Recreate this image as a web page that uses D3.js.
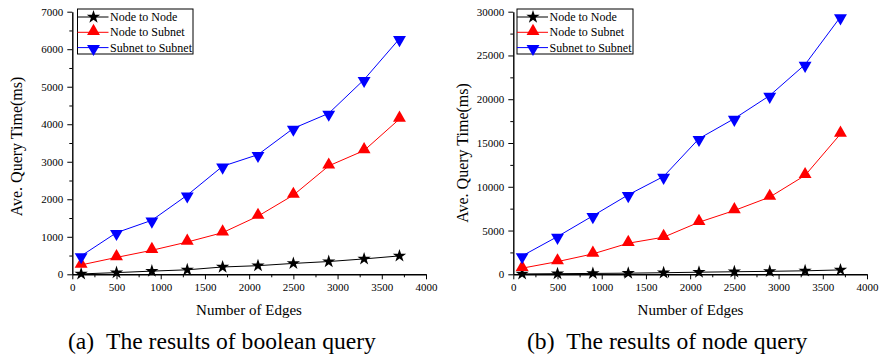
<!DOCTYPE html>
<html>
<head>
<meta charset="utf-8">
<script src="https://cdn.jsdelivr.net/npm/d3@7"></script>
<style>
  body { margin: 0; background: #fff; }
</style>
</head>
<body>
<div id="svg-area"></div>
<script>
// number of edges (x values)
var edges = [100, 500, 900, 1300, 1700, 2100, 2500, 2900, 3300, 3700];
var seriesNames = ["Node to Node", "Node to Subnet", "Subnet to Subnet"];

// (a) boolean query
var boolNodeNode     = [10, 45, 85, 120, 195, 230, 290, 340, 410, 490];
var boolNodeSubnet   = [250, 450, 640, 860, 1110, 1550, 2110, 2890, 3300, 4140];
var boolSubnetSubnet = [490, 1110, 1440, 2110, 2880, 3190, 3890, 4290, 5190, 6280];

// (b) node query
var nodeNodeNode     = [40, 70, 100, 130, 180, 240, 290, 340, 400, 500];
var nodeNodeSubnet   = [700, 1450, 2330, 3550, 4240, 5950, 7290, 8820, 11300, 16030];
var nodeSubnetSubnet = [2100, 4310, 6680, 9080, 11180, 15500, 17790, 20420, 23970, 29400];

var xTicks = [0, 500, 1000, 1500, 2000, 2500, 3000, 3500, 4000];
var yTicksA = [0, 1000, 2000, 3000, 4000, 5000, 6000, 7000];
var yTicksB = [0, 5000, 10000, 15000, 20000, 25000, 30000];
var captions = ["(a)\u2002The results of boolean query", "(b)\u2002The results of node query"];

var colors = ["#000000", "#ff0000", "#0000ff"];
var serif = "'Liberation Serif', 'Times New Roman', Times, serif";

var svg = d3.select("#svg-area")
    .append("svg")
    .attr("width", 879)
    .attr("height", 360)
    .attr("font-family", serif);

var panels = [
  {left: 72.3, right: 426, top: 11.7, bottom: 274.3, yMax: 7000, yTicks: yTicksA,
   series: [boolNodeNode, boolNodeSubnet, boolSubnetSubnet],
   legX: 77.5, legW: 115.5, yTitleX: 22, yTitleY: 146.5, xTitleX: 249, capX: 68, caption: captions[0]},
  {left: 513.3, right: 867, top: 11.7, bottom: 274.3, yMax: 30000, yTicks: yTicksB,
   series: [nodeNodeNode, nodeNodeSubnet, nodeSubnetSubnet],
   legX: 517, legW: 116, yTitleX: 468, yTitleY: 153, xTitleX: 690.5, capX: 527, caption: captions[1]}
];

function marker(i) {
  if (i == 0) return d3.symbol().type(d3.symbolStar).size(55)();
  return d3.symbol().type(d3.symbolTriangle).size(72)();
}

panels.forEach(function(p) {
  var x = d3.scaleLinear().domain([0, 4000]).range([p.left, p.right]);
  var y = d3.scaleLinear().domain([0, p.yMax]).range([p.bottom, p.top]);
  var g = svg.append("g");

  // minor ticks
  g.append("g")
      .attr("transform", "translate(0," + p.bottom + ")")
      .call(d3.axisBottom(x).tickValues(d3.range(250, 4000, 500)).tickSize(3).tickFormat(""))
      .call(function(a) { a.select(".domain").remove(); });
  g.append("g")
      .attr("transform", "translate(" + p.left + ",0)")
      .call(d3.axisLeft(y).tickValues(p.yTicks.slice(1).map(function(v) { return v - p.yTicks[1] / 2; }))
          .tickSize(3).tickFormat(""))
      .call(function(a) { a.select(".domain").remove(); });

  // X axis
  g.append("g")
      .attr("transform", "translate(0," + p.bottom + ")")
      .call(d3.axisBottom(x).tickValues(xTicks).tickFormat(d3.format("d"))
          .tickSize(5).tickSizeOuter(0).tickPadding(4));

  // Y axis
  g.append("g")
      .attr("transform", "translate(" + p.left + ",0)")
      .call(d3.axisLeft(y).tickValues(p.yTicks).tickFormat(d3.format("d"))
          .tickSize(5).tickSizeOuter(0).tickPadding(4));

  g.selectAll("g").attr("font-family", serif).attr("font-size", 11);
  g.selectAll(".domain").attr("stroke-width", 1.4);
  g.selectAll(".tick line").attr("stroke-width", 1);

  // titles
  g.append("text")
      .attr("transform", "translate(" + p.yTitleX + "," + p.yTitleY + ")rotate(-90)")
      .attr("text-anchor", "middle")
      .attr("font-size", 16)
      .text("Ave. Query Time(ms)");
  g.append("text")
      .attr("x", p.xTitleX).attr("y", 315)
      .attr("text-anchor", "middle")
      .attr("font-size", 15)
      .text("Number of Edges");
  g.append("text")
      .attr("x", p.capX).attr("y", 349)
      .attr("font-size", 23.6)
      .text(p.caption);

  // lines and markers
  var line = d3.line()
      .x(function(d, i) { return x(edges[i]); })
      .y(function(d) { return y(d); });

  p.series.forEach(function(vals, si) {
    g.append("path")
        .datum(vals)
        .attr("fill", "none")
        .attr("stroke", colors[si])
        .attr("stroke-width", 1)
        .attr("d", line);
    g.selectAll(".m" + si)
        .data(vals)
        .enter()
        .append("path")
        .attr("d", marker(si))
        .attr("transform", function(d, i) {
          return "translate(" + x(edges[i]) + "," + (y(d) + (si == 0 ? 0 : si == 1 ? -1 : 1)) + ")" + (si == 2 ? "rotate(180)" : "");
        })
        .attr("fill", colors[si]);
  });

  // legend
  var leg = g.append("g");
  leg.append("rect")
      .attr("x", p.legX).attr("y", 9)
      .attr("width", p.legW).attr("height", 45)
      .attr("fill", "#fff").attr("stroke", "#000").attr("stroke-width", 1);
  seriesNames.forEach(function(name, si) {
    var ly = 17 + si * 15.3;
    leg.append("line")
        .attr("x1", p.legX).attr("x2", p.legX + 31)
        .attr("y1", ly).attr("y2", ly)
        .attr("stroke", colors[si]).attr("stroke-width", 1);
    leg.append("path")
        .attr("d", marker(si))
        .attr("transform", "translate(" + (p.legX + 16) + "," + (ly + (si == 1 ? -1 : si == 2 ? 1 : 0)) + ")" + (si == 2 ? "rotate(180)" : ""))
        .attr("fill", colors[si]);
    leg.append("text")
        .attr("x", p.legX + 32.5).attr("y", ly + 4)
        .attr("font-size", 12)
        .text(name);
  });
});
</script>
</body>
</html>
